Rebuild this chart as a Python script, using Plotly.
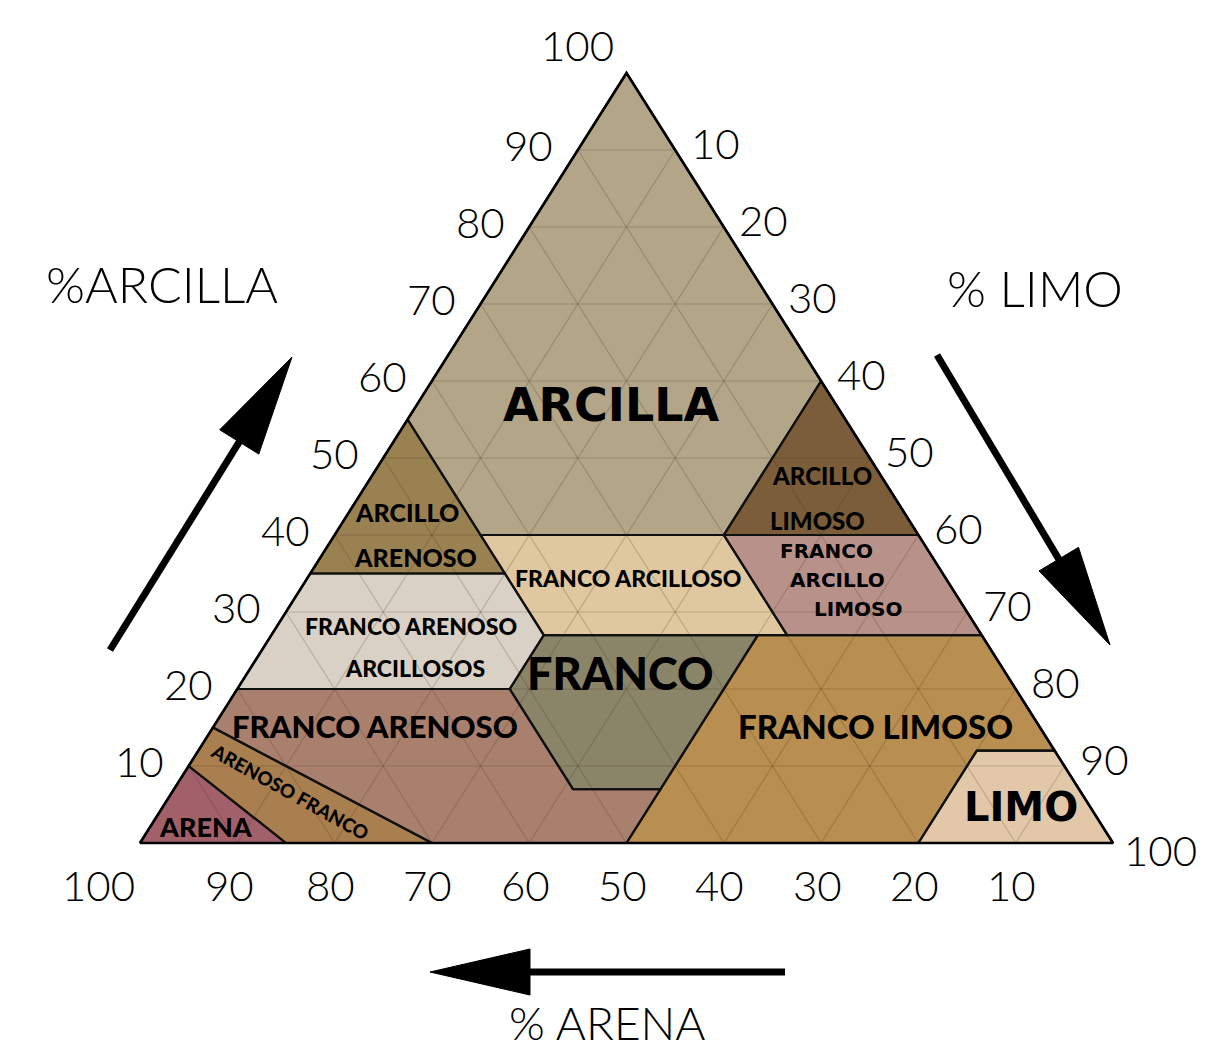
import math
import plotly.graph_objects as go

# ---------------- data (ternary vertices: % clay, % silt) ----------------
arcilla_clay = [100, 55, 40, 40, 60]
arcilla_silt = [0, 0, 15, 40, 40]
arcillo_arenoso_clay = [55, 35, 35]
arcillo_arenoso_silt = [0, 0, 20]
arcillo_limoso_clay = [60, 40, 40]
arcillo_limoso_silt = [40, 40, 60]
franco_arcilloso_clay = [40, 27, 27, 40]
franco_arcilloso_silt = [15, 28, 53, 40]
franco_arcillo_limoso_clay = [40, 27, 27, 40]
franco_arcillo_limoso_silt = [40, 53, 73, 60]
franco_arenoso_arcilloso_clay = [35, 20, 20, 27, 35]
franco_arenoso_arcilloso_silt = [0, 0, 28, 28, 20]
franco_clay = [27, 20, 7, 7, 27]
franco_silt = [28, 28, 41, 50, 50]
franco_limoso_clay = [27, 0, 0, 12, 12, 27]
franco_limoso_silt = [50, 50, 80, 80, 88, 73]
limo_clay = [12, 0, 0, 12]
limo_silt = [80, 80, 100, 88]
franco_arenoso_clay = [20, 15, 0, 0, 7, 7, 20]
franco_arenoso_silt = [0, 0, 30, 50, 50, 41, 28]
arenoso_franco_clay = [15, 10, 0, 0]
arenoso_franco_silt = [0, 0, 15, 30]
arena_clay = [10, 0, 0]
arena_silt = [0, 0, 15]

class_names = ["ARCILLA", "ARCILLO ARENOSO", "ARCILLO LIMOSO", "FRANCO ARCILLOSO",
               "FRANCO ARCILLO LIMOSO", "FRANCO ARENOSO ARCILLOSOS", "FRANCO",
               "FRANCO LIMOSO", "LIMO", "FRANCO ARENOSO", "ARENOSO FRANCO", "ARENA"]
class_clay = [arcilla_clay, arcillo_arenoso_clay, arcillo_limoso_clay, franco_arcilloso_clay,
              franco_arcillo_limoso_clay, franco_arenoso_arcilloso_clay, franco_clay,
              franco_limoso_clay, limo_clay, franco_arenoso_clay, arenoso_franco_clay, arena_clay]
class_silt = [arcilla_silt, arcillo_arenoso_silt, arcillo_limoso_silt, franco_arcilloso_silt,
              franco_arcillo_limoso_silt, franco_arenoso_arcilloso_silt, franco_silt,
              franco_limoso_silt, limo_silt, franco_arenoso_silt, arenoso_franco_silt, arena_silt]
class_colors = ["#b3a587", "#9a8152", "#7b5d3a", "#dfc8a0", "#b8928a", "#d9d1c5",
                "#8a8468", "#b88f50", "#e2c8a8", "#a9806e", "#a97f4f", "#a2606b"]

# label texts with their ternary anchor (clay, silt)
label_texts = ["ARCILLA", "ARCILLO", "ARENOSO", "ARCILLO", "LIMOSO", "FRANCO ARCILLOSO",
               "FRANCO", "ARCILLO", "LIMOSO", "FRANCO ARENOSO", "ARCILLOSOS", "FRANCO",
               "FRANCO ARENOSO", "FRANCO LIMOSO", "LIMO", "ARENA", "ARENOSO FRANCO"]
label_clay = [56.9, 43.0, 37.1, 47.7, 41.9, 34.4, 37.9, 34.2, 30.4, 28.2, 22.7, 22.1,
              15.2, 15.2, 4.7, 2.2, 6.75]
label_silt = [20.0, 5.9, 9.8, 46.2, 48.7, 32.95, 51.65, 54.6, 58.6, 13.75, 16.9, 38.3,
              16.55, 68.0, 88.2, 5.7, 12.05]
label_sizes = [46, 25, 25, 24, 24, 23, 20, 20, 20, 23, 23, 45, 31, 33, 40, 27, 19]
label_wide = [True, False, False, False, False, False, True, True, True, False, False,
              False, False, False, True, False, False]
label_angles = [0] * 16 + [29]

tick_values = [10, 20, 30, 40, 50, 60, 70, 80, 90, 100]
axis_titles = ["%ARCILLA", "% LIMO", "% ARENA"]

# ---------------- layout geometry ----------------
W, H = 1207, 1051
PX_LEFT, PX_RIGHT, PX_BASE, PX_APEX = 140, 1113, 843, 73
SX = (PX_RIGHT - PX_LEFT) / 100.0
SY = (PX_BASE - PX_APEX) / 100.0


def tern_x(clay, silt):
    return silt + clay / 2.0


def px2x(px):
    return (px - PX_LEFT) / SX


def py2y(py):
    return (PX_BASE - py) / SY


NUM_FONT = dict(family="Lato", size=42, color="black", weight=300)
TITLE_FONT = dict(family="Lato", size=50, color="black", weight=300)

fig = go.Figure()

# filled regions
for name, cl, si, col in zip(class_names, class_clay, class_silt, class_colors):
    xs = [tern_x(c, s) for c, s in zip(cl, si)] + [tern_x(cl[0], si[0])]
    ys = list(cl) + [cl[0]]
    fig.add_trace(go.Scatter(x=xs, y=ys, mode="lines", fill="toself", fillcolor=col,
                             line=dict(width=0, color=col), name=name,
                             hoverinfo="name", showlegend=False))

# grid lines every 10 %
gx, gy = [], []
for k in range(10, 100, 10):
    gx += [tern_x(k, 0), tern_x(k, 100 - k), None]
    gy += [k, k, None]
    gx += [tern_x(0, k), tern_x(100 - k, k), None]
    gy += [0, 100 - k, None]
    gx += [tern_x(0, 100 - k), tern_x(100 - k, 0), None]
    gy += [0, 100 - k, None]
fig.add_trace(go.Scatter(x=gx, y=gy, mode="lines", line=dict(color="rgba(70,50,25,0.22)", width=1.2),
                         hoverinfo="skip", showlegend=False))

# region borders
for cl, si in zip(class_clay, class_silt):
    xs = [tern_x(c, s) for c, s in zip(cl, si)] + [tern_x(cl[0], si[0])]
    ys = list(cl) + [cl[0]]
    fig.add_trace(go.Scatter(x=xs, y=ys, mode="lines", line=dict(color="#111", width=2.2),
                             hoverinfo="skip", showlegend=False))

# outer triangle
fig.add_trace(go.Scatter(x=[tern_x(0, 0), tern_x(100, 0), tern_x(0, 100), tern_x(0, 0)],
                         y=[0, 100, 0, 0], mode="lines", line=dict(color="black", width=2.6),
                         hoverinfo="skip", showlegend=False))

annotations = []
# region labels
for t, c, s, sz, wide, ang in zip(label_texts, label_clay, label_silt, label_sizes, label_wide, label_angles):
    fam = "DejaVu Sans" if wide else "Lato"
    wt = 700 if wide else 900
    annotations.append(dict(x=tern_x(c, s), y=c, text=t, showarrow=False, textangle=ang,
                            font=dict(family=fam, size=sz, color="black", weight=wt),
                            xanchor="center", yanchor="middle"))

# tick labels
for v in tick_values:
    annotations.append(dict(x=tern_x(v, 0), y=v, text=str(v), showarrow=False, font=NUM_FONT,
                            xanchor="center", yanchor="middle",
                            xshift=-49, yshift=5 if v < 100 else 28))
    annotations.append(dict(x=tern_x(100 - v, v), y=100 - v, text=str(v), showarrow=False, font=NUM_FONT,
                            xanchor="center", yanchor="middle",
                            xshift=40 if v < 100 else 47, yshift=7 if v < 100 else -7))
    annotations.append(dict(x=tern_x(0, 100 - v), y=0, text=str(v), showarrow=False, font=NUM_FONT,
                            xanchor="center", yanchor="middle",
                            xshift=(-8 if v == 90 else -4) if v < 100 else -42, yshift=-42))

# axis titles
title_pos = [(162, 284), (1035, 288), (607, 1022)]
title_sizes = [50, 50, 46]
for t, (px, py), ts in zip(axis_titles, title_pos, title_sizes):
    annotations.append(dict(x=px2x(px), y=py2y(py), text=t, showarrow=False,
                            font=dict(TITLE_FONT, size=ts),
                            xanchor="center", yanchor="middle"))

# arrows (decoration)
shapes = []
arrow_defs = [((110, 650), (292, 357)), ((937, 355), (1110, 645)), ((785, 972), (430, 972))]
HEAD_LEN, HEAD_HALF, LW = 100, 23, 7
for (tx0, ty0), (tx1, ty1) in arrow_defs:
    dx, dy = tx1 - tx0, ty1 - ty0
    L = math.hypot(dx, dy)
    ux, uy = dx / L, dy / L
    bx, by = tx1 - ux * HEAD_LEN, ty1 - uy * HEAD_LEN
    nx, ny = -uy, ux
    shapes.append(dict(type="line", xref="x", yref="y", x0=px2x(tx0), y0=py2y(ty0),
                       x1=px2x(bx + ux * 5), y1=py2y(by + uy * 5), line=dict(color="black", width=LW)))
    pts = [(tx1, ty1), (bx + nx * HEAD_HALF, by + ny * HEAD_HALF), (bx - nx * HEAD_HALF, by - ny * HEAD_HALF)]
    path = "M " + " L ".join(f"{px2x(a):.4f},{py2y(b):.4f}" for a, b in pts) + " Z"
    shapes.append(dict(type="path", xref="x", yref="y", path=path, fillcolor="black",
                       line=dict(color="black", width=1)))

fig.update_layout(
    width=W, height=H, margin=dict(l=0, r=0, t=0, b=0),
    paper_bgcolor="white", plot_bgcolor="white",
    xaxis=dict(range=[-PX_LEFT / SX, (W - PX_LEFT) / SX], visible=False, fixedrange=True),
    yaxis=dict(range=[-(H - PX_BASE) / SY, PX_BASE / SY], visible=False, fixedrange=True),
    annotations=annotations, shapes=shapes, showlegend=False,
)

fig.write_html("out.html", config={"displayModeBar": False},
               post_script="document.body.style.margin='0';document.body.style.overflow='hidden';")
